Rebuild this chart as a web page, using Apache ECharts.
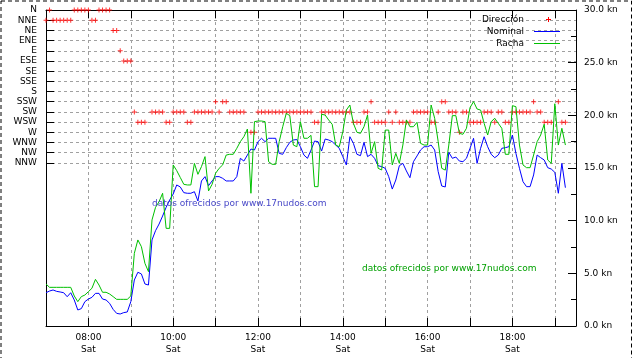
<!DOCTYPE html>
<html><head><meta charset="utf-8">
<script src="https://cdn.jsdelivr.net/npm/echarts@6/dist/echarts.min.js"></script>
<style>html,body{margin:0;padding:0;background:#fff}#c{width:633px;height:358px}</style>
</head><body><div id="c"></div>
<script>
// ---- data ----
const dirLabels = ['N','NNE','NE','ENE','E','ESE','SE','SSE','S','SSW','SW','WSW','W','WNW','NW','NNW'];
const dayLabel = 'Sat';
const startTime = '07:00';
const stepMinutes = 5;
const endTime = '19:30';
const kmTicks = [0, 5, 10, 15, 20, 25, 30];

const nominal = [
 3.16,3.32,3.42,3.29,3.23,3.16,2.78,3.16,2.47,1.52,
 1.65,2.31,2.56,2.72,3.10,3.10,2.56,2.47,2.15,1.58,
 1.20,1.14,1.27,1.33,2.31,4.37,5.10,4.94,3.99,3.89,
 8.17,9.05,9.68,10.44,11.27,11.96,12.53,13.39,13.20,12.66,
 12.60,12.60,12.75,11.87,13.77,14.18,13.32,13.77,14.18,14.18,
 14.02,13.77,13.77,13.77,14.18,15.92,15.66,16.23,16.80,16.71,
 17.50,17.82,17.50,17.82,17.82,17.82,16.39,16.30,16.93,17.44,
 17.66,17.70,17.02,16.23,15.92,16.70,17.56,17.50,16.61,17.75,
 17.66,17.50,17.18,16.87,16.08,15.29,17.97,17.34,16.30,16.17,
 17.44,16.08,16.30,15.92,15.22,15.13,14.97,14.18,13.00,13.86,
 15.22,15.44,14.72,14.08,15.60,16.14,16.71,17.02,17.02,17.18,
 16.71,14.65,13.29,13.20,16.49,15.92,16.04,15.66,15.60,15.92,
 16.87,17.82,15.44,16.87,17.97,17.02,16.30,15.98,16.23,16.87,
 16.93,17.02,18.13,16.39,14.97,13.70,13.23,13.23,14.34,16.23,
 15.98,15.76,15.03,14.90,14.59,12.60,15.44,13.13
];
const racha = [
 3.99,3.67,3.67,3.67,3.67,3.67,3.67,3.67,2.85,2.31,
 2.79,2.94,3.26,3.58,4.43,3.89,3.20,3.20,3.04,2.79,
 2.53,2.53,2.53,2.53,2.85,6.90,8.17,7.53,5.95,5.16,
 10.07,11.27,11.80,12.60,9.27,9.27,15.29,14.75,14.10,13.45,
 13.39,13.39,15.44,14.40,15.13,16.08,12.82,13.45,14.50,14.97,
 15.29,16.23,16.30,16.30,16.87,17.50,17.97,18.70,12.60,19.40,
 19.46,19.46,19.40,15.60,15.35,15.35,17.50,18.92,20.19,19.97,
 17.18,17.02,19.40,17.82,17.82,18.10,13.23,13.23,20.10,20.03,
 19.56,19.15,17.18,17.02,18.45,20.50,20.98,19.24,18.39,18.29,
 18.92,20.03,16.39,17.50,14.97,14.81,18.60,18.60,15.29,16.39,
 15.44,17.18,19.56,18.92,18.92,19.34,17.34,17.18,17.18,20.98,
 19.72,17.50,14.97,14.80,17.18,19.97,19.97,18.29,18.20,18.77,
 20.73,21.30,20.60,20.50,19.24,18.13,19.40,19.72,19.24,18.77,
 16.30,16.30,20.92,20.82,17.18,15.29,15.03,15.03,16.23,17.50,
 18.13,19.15,15.76,15.44,21.10,17.18,18.77,17.18
];
const direccion = [
 'NNE','N','NNE','NNE','NNE','NNE','NNE','NNE','N','N',
 'N','N','N','NNE','NNE','N','N','N','N','NE',
 'NE','E','ESE','ESE','ESE','SW','WSW','WSW','WSW',null,
 'SW','SW','SW','SW','WSW','WSW','SW','SW','SW','SW',
 'WSW','WSW','SW','SW','SW','SW','SW','SW','SSW','SW',
 'SSW','SSW','SW','SW','SW','SW','SW',null,'W','W',
 'SW','SW','SW','SW','SW','SW','SW','SW','SW','SW',
 'SW','SW','SW','SW','SW','SW','WSW','WSW','SW','SW',
 'SW','SW','SW','SW','SW','SW','SW','WSW','WSW','WSW',
 'SW','SW','SSW','WSW','WSW','WSW','WSW','SW','WSW','SW',
 'WSW','WSW','WSW','WSW','SW','SW','SW','SW','SW','WSW',
 'WSW','SW','SSW','SSW','SW','SW','SW','W','SW','SW',
 'WSW','WSW','WSW','WSW','SW','SW','SW','WSW','SW','SW',
 'WSW','WSW','SW','SW','SW','SW','SW','SW','SSW','SW',
 'SW','WSW','WSW','WSW',null,'SSW','WSW','WSW'
];

// ---- build categories ----
function toMin(s){const p=s.split(':');return (+p[0])*60+(+p[1]);}
function fmt(m){const h=Math.floor(m/60),mm=m%60;return (h<10?'0':'')+h+':'+(mm<10?'0':'')+mm;}
const timeCats = [];
for(let m=toMin(startTime); m<=toMin(endTime); m+=stepMinutes) timeCats.push(fmt(m));
const dirAxisCats = dirLabels.slice();
for(let k=dirLabels.length;k<32;k++) dirAxisCats.push('_'+k);
const dirData = [];
direccion.forEach((d,i)=>{ if(d!==null) dirData.push([i, dirLabels.indexOf(d)]); });

const font = 'DejaVu Sans';
const dashGray = {color:'#a0a0a0', type:[3,3], width:1};
const axLine = {show:true, onZero:false, lineStyle:{color:'#000', width:1}};
const hourTick = (i)=> i % 12 === 0;

const chart = echarts.init(document.getElementById('c'), null, {renderer:'canvas'});
chart.setOption({
  animation:false,
  backgroundColor:'#fff',
  grid:{left:46, right:57, top:10, bottom:32, outerBoundsMode:'none'},
  xAxis:[{
    type:'category', data:timeCats, boundaryGap:false, position:'bottom',
    axisLine:axLine,
    axisTick:{show:true, inside:true, length:8, interval:hourTick, lineStyle:{color:'#000'}},
    axisLabel:{show:true, interval:(i)=> i%24===12, formatter:(v)=> v+'\n'+dayLabel,
      color:'#000', fontFamily:font, fontSize:9, lineHeight:12, margin:6},
    splitLine:{show:true, interval:(i)=> i%12===0 && i>0 && i<timeCats.length-1, lineStyle:dashGray}
  },{
    type:'category', data:timeCats, boundaryGap:false, position:'top',
    axisLine:axLine,
    axisTick:{show:true, inside:true, length:8, interval:hourTick, lineStyle:{color:'#000'}},
    axisLabel:{show:false}, splitLine:{show:false}
  }],
  yAxis:[{
    type:'category', data:dirAxisCats, boundaryGap:false, inverse:true, position:'left',
    axisLine:axLine,
    axisTick:{show:true, inside:true, length:8, interval:(i)=> i<=15, lineStyle:{color:'#000'}},
    axisLabel:{show:true, interval:(i)=> i<=15, color:'#000', fontFamily:font, fontSize:9, margin:9},
    splitLine:{show:true, interval:(i)=> i>=1 && i<=15, lineStyle:dashGray}
  },{
    type:'value', position:'right', min:kmTicks[0], max:kmTicks[kmTicks.length-1], interval:5,
    axisLine:axLine,
    axisTick:{show:true, inside:true, length:8, lineStyle:{color:'#000'}},
    minorTick:{show:true, splitNumber:2, length:5, lineStyle:{color:'#000'}},
    axisLabel:{show:true, formatter:(v)=> v.toFixed(1)+' kn', color:'#000', fontFamily:font, fontSize:9, margin:8},
    splitLine:{show:false}
  }],
  series:[{
    name:'Dirección', type:'scatter', xAxisIndex:0, yAxisIndex:0, data:dirData,
    symbol:'path://M2,0H3V2H5V3H3V5H2V3H0V2H2Z', symbolSize:5,
    itemStyle:{color:'#ff0000'}, clip:false, z:3
  },{
    name:'Nominal', type:'line', xAxisIndex:0, yAxisIndex:1, data:nominal,
    showSymbol:false, symbol:'none', lineStyle:{color:'#0000ff', width:1}, z:4
  },{
    name:'Racha', type:'line', xAxisIndex:0, yAxisIndex:1, data:racha,
    showSymbol:false, symbol:'none', lineStyle:{color:'#00c000', width:1}, z:5
  }],
  graphic:[
    {type:'rect', shape:{x:1, y:1, width:630.5, height:400}, style:{fill:'none', stroke:'#000', lineWidth:1, lineDash:[4,3]}, silent:true, z:0},
    {type:'text', x:524, y:19.5, style:{text:'Dirección', font:'9px "DejaVu Sans"', fill:'#000', textAlign:'right', textVerticalAlign:'middle'}, z:10},
    {type:'rect', shape:{x:546, y:19, width:5, height:1}, style:{fill:'#ff0000'}, z:10},
    {type:'rect', shape:{x:548, y:17, width:1, height:5}, style:{fill:'#ff0000'}, z:10},
    {type:'text', x:524, y:31.5, style:{text:'Nominal', font:'9px "DejaVu Sans"', fill:'#000', textAlign:'right', textVerticalAlign:'middle'}, z:10},
    {type:'rect', shape:{x:534, y:31, width:26, height:1}, style:{fill:'#0000ff'}, z:10},
    {type:'text', x:524, y:43.5, style:{text:'Racha', font:'9px "DejaVu Sans"', fill:'#000', textAlign:'right', textVerticalAlign:'middle'}, z:10},
    {type:'rect', shape:{x:534, y:43, width:26, height:1}, style:{fill:'#00c000'}, z:10},
    {type:'text', x:152, y:204, style:{text:'datos ofrecidos por www.17nudos.com', font:'9px "DejaVu Sans"', fill:'#4848c8', textVerticalAlign:'middle'}, z:10},
    {type:'text', x:362, y:269, style:{text:'datos ofrecidos por www.17nudos.com', font:'9px "DejaVu Sans"', fill:'#00a000', textVerticalAlign:'middle'}, z:10}
  ]
});
</script>
</body></html>
